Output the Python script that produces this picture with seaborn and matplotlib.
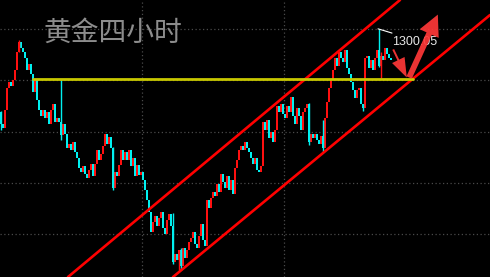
import numpy as np
import pandas as pd
import matplotlib
matplotlib.use("Agg")
import matplotlib.pyplot as plt
import seaborn as sns
from matplotlib.patches import FancyArrowPatch

# ---------------- data (gold, 4-hour candles) ----------------
first_open = 1267.6
closes = [
    1262.9, 1261.4, 1268.4, 1277.0, 1279.3, 1277.8, 1280.1, 1284.0, 1291.0, 1294.9,
    1292.6, 1291.0, 1288.7, 1284.0, 1286.3, 1282.4, 1275.4, 1280.1, 1272.3, 1268.4,
    1266.1, 1268.4, 1265.3, 1267.6, 1262.9, 1268.4, 1270.7, 1263.7, 1265.3, 1263.7,
    1258.6, 1262.9, 1259.0, 1253.6, 1255.1, 1252.8, 1255.9, 1252.0, 1249.7, 1245.8,
    1244.2, 1246.6, 1243.4, 1241.9, 1245.0, 1247.3, 1242.7, 1247.3, 1252.8, 1248.9,
    1251.2, 1254.4, 1259.0, 1255.1, 1257.9, 1253.6, 1238.0, 1244.2, 1242.7, 1247.0,
    1252.8, 1248.9, 1252.0, 1248.9, 1252.8, 1246.6, 1249.7, 1242.7, 1247.0, 1243.1,
    1244.2, 1241.1, 1237.2, 1233.3, 1228.6, 1220.8, 1224.7, 1227.1, 1223.2, 1226.3,
    1228.6, 1222.4, 1220.0, 1225.5, 1227.8, 1223.2, 1209.1, 1212.2, 1209.9, 1213.8,
    1207.6, 1214.6, 1210.7, 1213.8, 1216.9, 1218.5, 1220.8, 1216.1, 1214.6, 1219.3,
    1223.9, 1217.7, 1215.4, 1233.3, 1230.2, 1234.1, 1236.4, 1234.9, 1239.5, 1236.4,
    1243.4, 1240.3, 1238.0, 1242.7, 1237.2, 1241.1, 1235.6, 1245.8, 1248.9, 1252.8,
    1254.4, 1252.8, 1255.9, 1253.6, 1252.0, 1249.7, 1247.3, 1249.7, 1245.0, 1244.2,
    1246.6, 1263.7, 1260.6, 1264.5, 1257.5, 1259.8, 1255.9, 1260.6, 1270.0, 1267.6,
    1270.7, 1266.8, 1265.3, 1270.0, 1267.6, 1273.5, 1266.1, 1262.9, 1269.2, 1266.1,
    1260.6, 1267.6, 1269.2, 1270.7, 1255.9, 1259.0, 1257.5, 1259.0, 1256.7, 1255.1,
    1258.3, 1253.6, 1265.3, 1271.5, 1277.0, 1280.1, 1284.0, 1288.7, 1285.6, 1291.0,
    1288.7, 1287.1, 1291.8, 1284.8, 1282.4, 1279.3, 1276.2, 1273.1, 1276.2, 1277.0,
    1270.7, 1269.2, 1288.7, 1289.5, 1284.8, 1287.9, 1284.0, 1288.7, 1291.8, 1285.6,
    1289.5, 1287.9, 1292.6, 1290.2, 1288.7, 1287.9,
]
# visible long shadows (candle index, high, low)
wick_idx = [0, 9, 30, 56, 86, 89, 90, 154, 161, 181, 189, 190]
wick_high = [1268.0, 1295.7, 1280.5, 1254.0, 1228.2, 1214.0, 1214.6, 1271.0, 1264.5, 1270.7, 1300.05, 1291.0]
wick_low = [1260.6, 1291.0, 1256.7, 1237.2, 1208.5, 1206.0, 1206.0, 1254.7, 1252.0, 1268.0, 1285.0, 1280.9]

resistance = 1280.5          # yellow horizontal line
res_span = [16, 206]
upper_channel = [(33.5, 1203.3), (199.5, 1311.3)]
lower_channel = [(86.0, 1203.3), (244.5, 1305.45)]
peak_label = "1300.05"
title = "黄金四小时"
grid_prices = [1300, 1280, 1260, 1240, 1220]
grid_x = [70.5, 141.5]

# ---------------- drawing ----------------
sns.set_style("dark", {"axes.facecolor": "black", "figure.facecolor": "black"})
plt.rcParams["font.family"] = ["Noto Sans CJK SC", "DejaVu Sans"]

fig = plt.figure(figsize=(4.9, 2.77), dpi=100)
ax = fig.add_axes([0, 0, 1, 1])
ax.set_facecolor("black")
ax.set_xlim(-0.5, 244.5)
ax.set_ylim(1203.3, 1311.3)
ax.set_axis_off()

for gp in grid_prices:
    ax.axhline(gp, color="#4a4a4a", lw=0.9, ls=(0, (1, 2)), zorder=1)
for gx in grid_x:
    ax.axvline(gx, color="#4a4a4a", lw=0.9, ls=(0, (1, 2)), zorder=1)

c = np.array(closes)
o = np.concatenate([[first_open], c[:-1]])
idx = np.arange(len(c))
up = c >= o
cols = np.where(up, "#ff1010", "#00f0f0")
h = c - o
h = np.where(np.abs(h) < 0.5, np.where(h >= 0, 0.5, -0.5), h)

ax.bar(idx, h, bottom=o, width=1.0, color=cols, linewidth=0, zorder=3)
ax.vlines(wick_idx, wick_low, wick_high, colors=[cols[i] for i in wick_idx], lw=1.0, zorder=3)

# channel lines
for p1, p2 in (upper_channel, lower_channel):
    ax.axline(p1, p2, color="#ff0000", lw=1.9, zorder=4)

# resistance line via seaborn
res_df = pd.DataFrame({"x": res_span, "y": [resistance, resistance]})
sns.lineplot(data=res_df, x="x", y="y", ax=ax, color="#c8c800", lw=2.0, zorder=4)
ax.set_axis_off()

# peak label and connector
ax.plot([188.5, 190.5, 195.5], [1300.05, 1299.6, 1298.4], color="white", lw=0.8, zorder=5)
ax.text(195.5, 1294.9, peak_label, color="#e6e6e6", fontsize=9,
        family=["Liberation Sans", "DejaVu Sans"], va="center", ha="left", zorder=5)

# arrows
arrow_col = "#ff3838"
a1 = FancyArrowPatch((195.5, 1293.0), (203.5, 1280.1),
                     arrowstyle="simple,head_length=1.4,head_width=1.0,tail_width=0.14",
                     mutation_scale=10, color=arrow_col, alpha=0.92, lw=0, zorder=6)
a2 = FancyArrowPatch((203.5, 1280.1), (219.0, 1306.6),
                     arrowstyle="simple,head_length=1.5,head_width=1.5,tail_width=0.42",
                     mutation_scale=10, color=arrow_col, alpha=0.92, lw=0, zorder=6)
ax.add_patch(a1)
ax.add_patch(a2)

fig.text(43 / 490, 1 - 33 / 277, title, color="#8c8c8c", fontsize=20,
         va="center", ha="left")

fig.savefig("out.png", dpi=100, facecolor="black")
